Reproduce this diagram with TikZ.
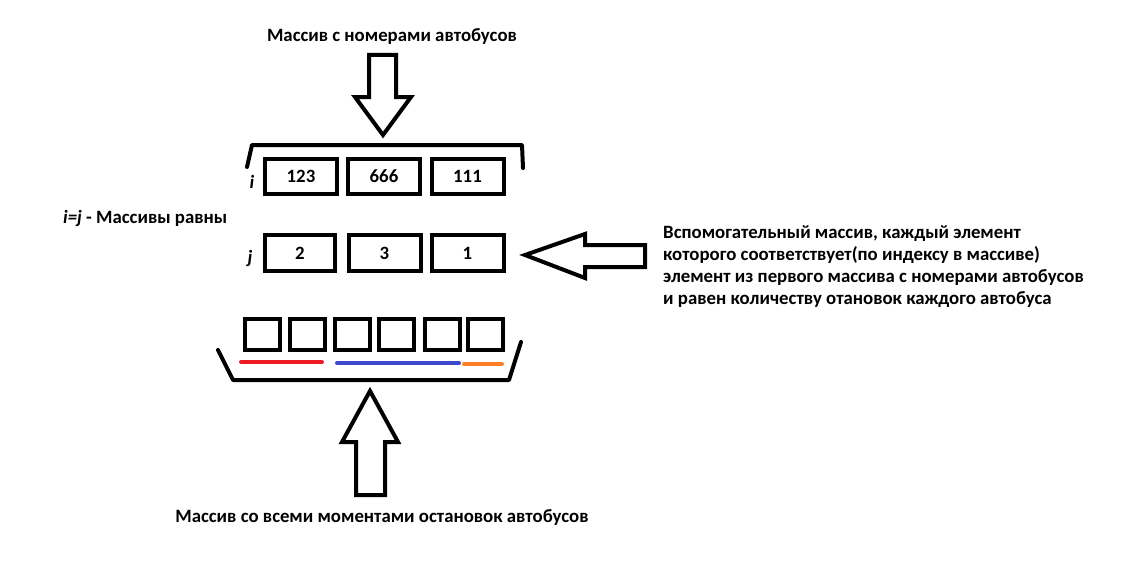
\documentclass[tikz,border=0pt]{standalone}
\usepackage{fontspec}
\setmainfont{Carlito}
\definecolor{pred}{HTML}{ED1C24}
\definecolor{pblue}{HTML}{3F48CC}
\definecolor{porange}{HTML}{FF7F27}
\begin{document}
\begin{tikzpicture}[x=1pt,y=-1pt,
  txt/.style={font=\fontsize{18.8}{22}\selectfont\bfseries, inner sep=0pt},
  cell/.style={draw, line width=4pt, minimum width=72pt, minimum height=35pt, inner sep=0pt, font=\fontsize{18.8}{22}\selectfont\bfseries},
  smallcell/.style={draw, line width=4pt, minimum width=35pt, minimum height=31pt, inner sep=0pt},
  blockarrow/.style={draw, line width=4pt, line join=miter},
  thick4/.style={line width=4pt, line cap=round, line join=round},
  idx/.style={font=\fontsize{18.8}{22}\selectfont\bfseries\itshape, inner sep=0pt}]
\useasboundingbox (0,0) rectangle (1122,586);

% texts
\node[txt] (ttop) at (392,37) {Массив с номерами автобусов};
\node[txt, anchor=west] (teq) at (63,218) {\textit{i=j} - Массивы равны};
\node[txt, anchor=north west, align=left] (tright) at (663,225)
  {Вспомогательный массив, каждый элемент\\
   которого соответствует(по индексу в массиве)\\
   элемент из первого массива с номерами автобусов\\
   и равен количеству отановок каждого автобуса};
\node[txt] (tbot) at (382,517) {Массив со всеми моментами остановок автобусов};

% top array
\node[cell] (a1) at (301,176.5) {123};
\node[cell] (a2) at (384,176.5) {666};
\node[cell] (a3) at (467.5,176.5) {111};
\node[idx] (li) at (252,182) {i};

% second array
\node[cell, minimum width=70pt, minimum height=36pt] (b1) at (300,253) {2};
\node[cell, minimum height=36pt] (b2) at (384.5,253) {3};
\node[cell, minimum height=36pt] (b3) at (467.5,253) {1};
\node[idx] (lj) at (250,258) {j};

% bottom cells
\node[smallcell] (c1) at (262.5,334.5) {};
\node[smallcell] (c2) at (307,334.5) {};
\node[smallcell] (c3) at (352.5,334.5) {};
\node[smallcell] (c4) at (396.5,334.5) {};
\node[smallcell] (c5) at (442,334.5) {};
\node[smallcell] (c6) at (485,334.5) {};

% top bracket
\draw[thick4] (247,167) -- (252,145) -- (522,145) -- (523,168);

% tray
\draw[thick4] (218,350) -- (233,380) -- (509,380) -- (521,342);

% colored segments
\draw[thick4, pred] (241,362) -- (322,362);
\draw[thick4, pblue] (337,363) -- (459,363);
\draw[thick4, porange] (464,364) -- (502,364);

% block arrows
\draw[blockarrow] (369,55) -- (396,55) -- (396,97) -- (411,97) -- (383,135) -- (355,97) -- (369,97) -- cycle;
\draw[blockarrow] (370,391) -- (398,442) -- (385,442) -- (385,495) -- (356,495) -- (356,442) -- (342,442) -- cycle;
\draw[blockarrow] (525,255) -- (585,234) -- (585,245) -- (645,245) -- (645,267) -- (585,267) -- (585,278) -- cycle;
\end{tikzpicture}
\end{document}
